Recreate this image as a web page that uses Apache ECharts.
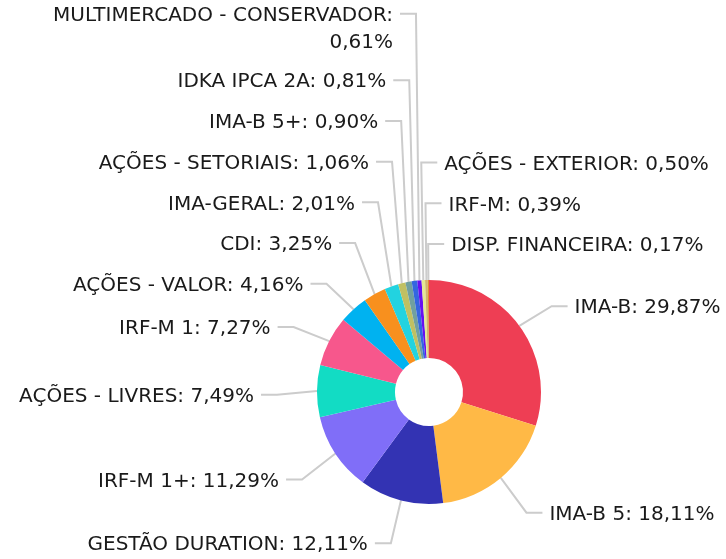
<!DOCTYPE html>
<html><head><meta charset="utf-8">
<script src="https://cdn.jsdelivr.net/npm/echarts@6/dist/echarts.min.js"></script>
<style>html,body{margin:0;padding:0;background:#fff}#c{width:726px;height:559px}</style>
</head><body><div id="c"></div>
<script>
const categories = ['IMA-B', 'IMA-B 5', 'GESTÃO DURATION', 'IRF-M 1+', 'AÇÕES - LIVRES', 'IRF-M 1', 'AÇÕES - VALOR', 'CDI', 'IMA-GERAL', 'AÇÕES - SETORIAIS', 'IMA-B 5+', 'IDKA IPCA 2A', 'MULTIMERCADO - CONSERVADOR', 'AÇÕES - EXTERIOR', 'IRF-M', 'DISP. FINANCEIRA'];
const values = [29.87, 18.11, 12.11, 11.29, 7.49, 7.27, 4.16, 3.25, 2.01, 1.06, 0.90, 0.81, 0.61, 0.50, 0.39, 0.17];
const colors = ['#EE3E54', '#FFB946', '#3333B3', '#806EF8', '#12DCC4', '#F7578C', '#00B2F0', '#F8901E', '#22D3E0', '#C0C062', '#70A0A0', '#3466E0', '#6610F2', '#E3E993', '#D2B46E', '#E08A30'];

// layout constants
const cx = 429, cy = 392, rIn = 34, r = 112;
const R = 152, len2 = 16, dist = 7, yOff = 6, gap = 40.7, lh = 27, extraH = 24.6, lineOff = 2, topBound = -10;

function fmt(i) {
  const v = values[i].toFixed(2).replace('.', ',') + '%';
  return categories[i].length > 20 ? categories[i] + ':\n' + v : categories[i] + ': ' + v;
}

// label placement computed from the data angles
const total = values.reduce((a, b) => a + b, 0);
let acc = 0;
const items = values.map((v, i) => {
  const th = (acc + v / 2) / total * 2 * Math.PI; acc += v;
  const s = Math.sin(th), c = Math.cos(th);
  const dir = s > -0.06 ? 1 : -1;
  const lines = fmt(i).split('\n').length;
  return {i, th, s, c, dir, lines, h: gap + (lines - 1) * extraH, y: cy + yOff - R * c,
    key: dir > 0 ? (th + Math.PI) % (2 * Math.PI) : -th};
});
const layout = [];
[1, -1].forEach(dir => {
  const list = items.filter(d => d.dir === dir).sort((a, b) => a.key - b.key);
  for (let k = list.length - 2; k >= 0; k--) {
    list[k].y = Math.min(list[k].y, list[k + 1].y - (list[k].h + list[k + 1].h) / 2);
  }
  list[0].y = Math.max(list[0].y, topBound + list[0].h / 2);
  for (let k = 1; k < list.length; k++) {
    list[k].y = Math.max(list[k].y, list[k - 1].y + (list[k].h + list[k - 1].h) / 2);
  }
  list.forEach(d => {
    const x2 = cx + R * d.s;
    const x3 = x2 + dir * len2;
    const x = x3 + dir * dist;
    const yl = d.y - (d.lines - 1) * lh / 2 - lineOff;
    layout[d.i] = {x, y: d.y, align: dir > 0 ? 'left' : 'right',
      pts: [[cx + r * d.s, cy - r * d.c], [x2, yl], [x3, yl]]};
  });
});

const chart = echarts.init(document.getElementById('c'), null, {renderer: 'canvas'});
chart.setOption({
  animation: false,
  series: [{
    type: 'pie',
    center: [cx, cy],
    radius: [rIn, r],
    startAngle: 90,
    clockwise: true,
    avoidLabelOverlap: false,
    data: categories.map((n, i) => ({name: n, value: values[i], itemStyle: {color: colors[i]}})),
    label: {
      formatter: p => fmt(p.dataIndex),
      fontFamily: 'DejaVu Sans',
      fontSize: 20,
      color: '#1a1a1a',
      lineHeight: lh,
      overflow: 'none'
    },
    labelLine: {show: true, length: R - r, length2: len2, lineStyle: {color: '#cccccc', width: 2}},
    labelLayout: p => {
      const L = layout[p.dataIndex];
      return {x: L.x, y: L.y, align: L.align, verticalAlign: 'middle', labelLinePoints: L.pts, hideOverlap: false};
    },
    itemStyle: {borderWidth: 0}
  }]
});
</script></body></html>
